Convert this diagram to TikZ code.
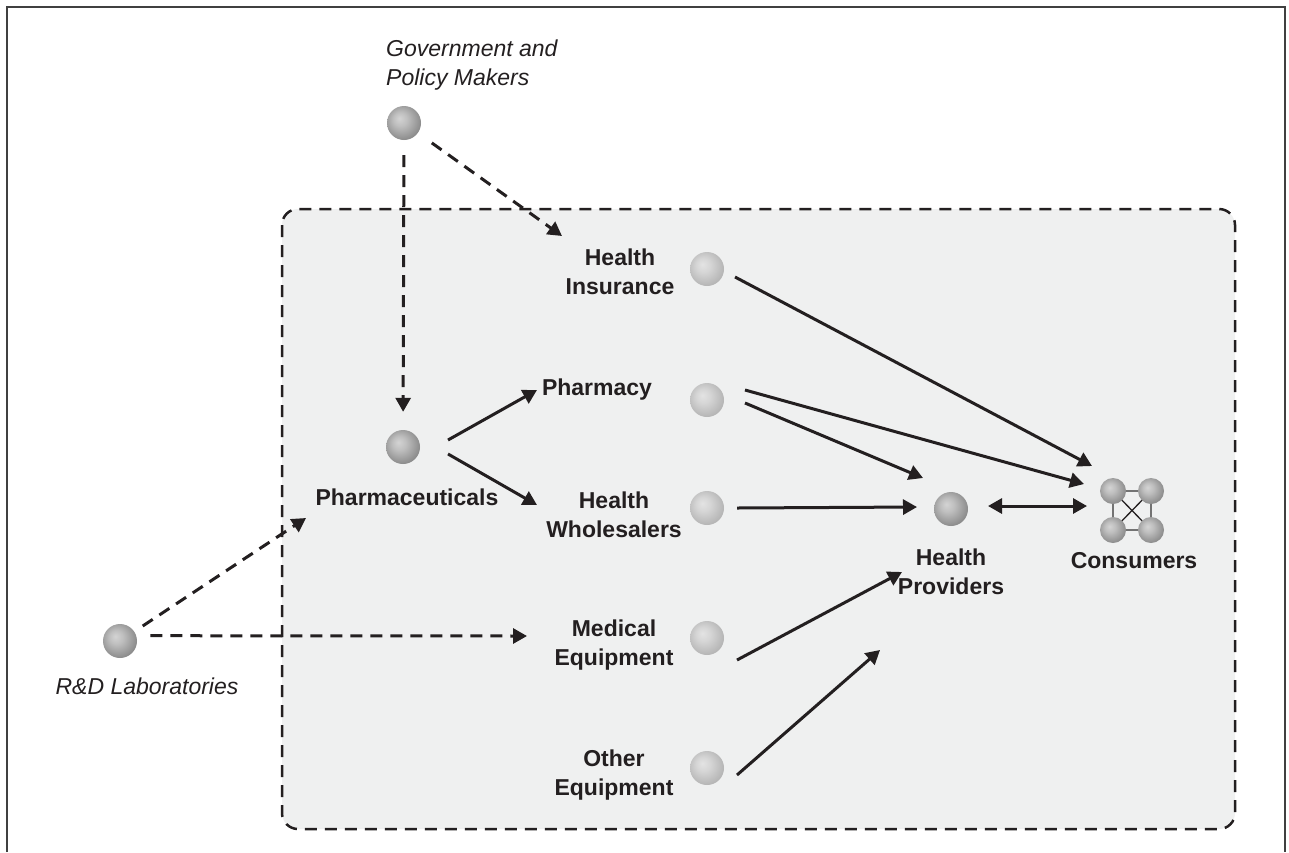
\documentclass[tikz,border=0pt]{standalone}
\usepackage{fontspec}
\setmainfont{Liberation Sans}
\usetikzlibrary{arrows.meta,calc}
\definecolor{bgc}{HTML}{EFF0F0}
\definecolor{ln}{HTML}{231F20}
\definecolor{txt}{HTML}{231F20}
\pgfdeclareradialshading{sphdark}{\pgfpoint{-7bp}{7bp}}{color(0bp)=(black!17); color(10bp)=(black!25); color(32bp)=(black!50); color(50bp)=(black!50)}
\pgfdeclareradialshading{sphlight}{\pgfpoint{-7bp}{7bp}}{color(0bp)=(black!11); color(10bp)=(black!16); color(32bp)=(black!32); color(50bp)=(black!32)}
\begin{document}
\begin{tikzpicture}[x=1pt,y=-1pt,
  sph/.style={circle, minimum size=34pt, inner sep=0pt, shading=sphdark},
  sphl/.style={circle, minimum size=34pt, inner sep=0pt, shading=sphlight},
  sphs/.style={circle, minimum size=26pt, inner sep=0pt, shading=sphdark},
  lbl/.style={font=\fontsize{23}{29}\selectfont\bfseries, text=txt, align=center, inner sep=0pt},
  ilbl/.style={font=\fontsize{23}{29}\selectfont\itshape, text=txt, align=left, inner sep=0pt},
  tipA/.tip={Triangle[length=14pt,width=15pt]},
  arr/.style={line width=3pt, draw=ln, -tipA},
  darr/.style={arr, dash pattern=on 12pt off 8pt},
  boxline/.style={line width=2.5pt, draw=ln, dash pattern=on 12pt off 8pt, rounded corners=16pt},
]
\useasboundingbox (0,0) rectangle (1289,852);
% outer frame
\draw[line width=2.5pt, black!75] (7,852) -- (7,7) -- (1285,7) -- (1285,852);
% dashed region
\fill[bgc, rounded corners=16pt] (282,209) rectangle (1235,829);
\draw[boxline] (282,209) rectangle (1235,829);

% spheres
\node[sph] (gov) at (404,123) {};
\node[ilbl, anchor=west] (govL) at (386,65) {Government and\\Policy Makers};
\node[sph] (pharma) at (403,447) {};
\node[lbl] (pharmaL) at (407,497) {Pharmaceuticals};
\node[sph] (rd) at (120,641) {};
\node[ilbl] (rdL) at (147,686) {R\&D Laboratories};

\node[sphl] (hi) at (707,269) {};
\node[lbl] (hiL) at (620,272) {Health\\Insurance};
\node[sphl] (py) at (707,400) {};
\node[lbl] (pyL) at (597,390) {Pharmacy};
\node[sphl] (hw) at (707,508) {};
\node[lbl] (hwL) at (614,515) {Health\\Wholesalers};
\node[sphl] (me) at (707,638) {};
\node[lbl] (meL) at (614,645) {Medical\\Equipment};
\node[sphl] (oe) at (707,768) {};
\node[lbl] (oeL) at (614,775) {Other\\Equipment};
\node[sph] (hp) at (951,509) {};
\node[lbl] (hpL) at (951,572) {Health\\Providers};

% consumers icon
\coordinate (c1) at (1113,491);
\coordinate (c2) at (1151,491);
\coordinate (c3) at (1113,530);
\coordinate (c4) at (1151,530);
\draw[line width=1.3pt, black!55] (c1) -- (c2) -- (c4) -- (c3) -- cycle;
\draw[line width=1.3pt, ln] (c1) -- (c4) (c2) -- (c3);
\node[sphs] (cs1) at (c1) {};
\node[sphs] (cs2) at (c2) {};
\node[sphs] (cs3) at (c3) {};
\node[sphs] (cs4) at (c4) {};
\node[lbl] (consL) at (1134,561) {Consumers};

% arrow tip coordinates
\coordinate (hiIn) at (562,236);
\coordinate (phIn) at (306,518);
\coordinate (meIn) at (527,636);
\coordinate (pyIn) at (537,390);
\coordinate (hwIn) at (537,505);
\coordinate (cIns) at (1092,466);
\coordinate (cPy) at (1084,484);
\coordinate (cHp) at (1087,506);
\coordinate (hpPy) at (923,478);
\coordinate (hpHw) at (917,507);
\coordinate (hpMe) at (902,572);
\coordinate (hpOe) at (880,650);
\coordinate (hpOut) at (988,506);

% dashed connectors
\draw[darr, shorten <=15pt, shorten >=18pt] (gov) -- (pharma);
\draw[darr, shorten <=17pt] (gov) -- (hiIn);
\draw[darr, shorten <=10pt] (rd) -- (phIn);
\draw[darr, shorten <=14pt] (rd.18) -- (meIn);

% solid connectors
\draw[arr] ([xshift=45pt,yshift=7pt]pharma.center) -- (pyIn);
\draw[arr] ([xshift=45pt,yshift=-7pt]pharma.center) -- (hwIn);
\draw[arr] ([xshift=28pt,yshift=-8pt]hi.center) -- (cIns);
\draw[arr] ([xshift=38pt,yshift=10pt]py.center) -- (cPy);
\draw[arr] ([xshift=38pt,yshift=-3pt]py.center) -- (hpPy);
\draw[arr] ([xshift=30pt]hw.center) -- (hpHw);
\draw[arr] ([xshift=30pt,yshift=-22pt]me.center) -- (hpMe);
\draw[arr] ([xshift=30pt,yshift=-7pt]oe.center) -- (hpOe);
\draw[arr, tipA-tipA] (hpOut) -- (cHp);
\end{tikzpicture}
\end{document}
